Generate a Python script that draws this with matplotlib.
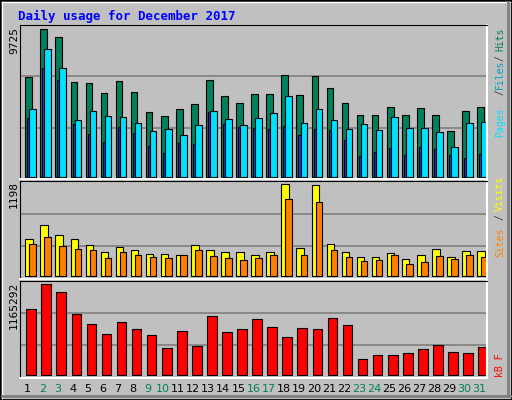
import matplotlib
matplotlib.use("Agg")
import matplotlib.pyplot as plt
import numpy as np

days = list(range(1, 32))
weekend = [2, 3, 9, 10, 16, 17, 23, 24, 30, 31]
hits = [6600, 9725, 9200, 6270, 6200, 5540, 6330, 5610, 4250, 3990, 4440, 4770, 6400, 5350, 4840, 5480, 5480, 6730, 5420, 6670, 5880, 4840, 4050, 4050, 4570, 4050, 4510, 4050, 3000, 4310, 4570]
files = [4440, 8400, 7150, 3720, 4310, 3990, 3920, 3520, 3000, 3120, 2730, 3390, 4310, 3780, 3390, 3850, 4180, 5300, 3560, 4440, 3720, 3120, 3450, 3060, 3920, 3190, 3190, 2930, 1940, 3560, 3630]
pages = [3850, 7150, 6400, 3450, 2790, 2270, 3260, 2860, 2000, 1540, 2200, 2130, 4250, 3450, 3260, 3190, 3120, 3320, 2730, 3120, 3060, 2400, 1340, 1610, 1870, 1410, 1940, 1800, 1410, 1210, 1470]
visits = [482, 664, 534, 482, 404, 312, 377, 338, 286, 286, 273, 404, 338, 312, 312, 273, 312, 1198, 364, 1185, 417, 312, 247, 247, 299, 221, 273, 351, 247, 325, 325]
sites = [417, 508, 391, 351, 338, 234, 312, 273, 247, 234, 273, 338, 260, 234, 208, 234, 273, 1003, 273, 964, 338, 247, 195, 208, 273, 156, 182, 260, 221, 273, 247]
kbytes = [844000, 1165292, 1062000, 781000, 653000, 525000, 679000, 589000, 512000, 346000, 563000, 371000, 755000, 550000, 589000, 717000, 614000, 486000, 602000, 589000, 730000, 640000, 205000, 256000, 256000, 282000, 333000, 384000, 294000, 282000, 358000]

W, H = 512, 400
fig = plt.figure(figsize=(W / 100, H / 100), dpi=100)
fig.patch.set_facecolor("#C0C0C0")
fig.add_artist(plt.Rectangle((0, 0), 1, 1, transform=fig.transFigure, fill=False, ec="black", lw=2))
fig.add_artist(plt.Line2D([2/W, 2/W], [2/H, 1-2/H], transform=fig.transFigure, color="white", lw=1))
fig.add_artist(plt.Line2D([2/W, 1-2/W], [1-2/H, 1-2/H], transform=fig.transFigure, color="white", lw=1))
fig.add_artist(plt.Line2D([1-4/W, 1-4/W], [4/H, 1-2/H], transform=fig.transFigure, color="#808080", lw=2))
fig.add_artist(plt.Line2D([2/W, 1-2/W], [4/H, 4/H], transform=fig.transFigure, color="#808080", lw=2))

x0, x1 = 20, 487

def make_ax(top, bottom, base, maxtop, vmax):
    ax = fig.add_axes([x0 / W, 1 - bottom / H, (x1 - x0) / W, (bottom - top) / H])
    ax.set_facecolor("#C0C0C0")
    ppv = (base - maxtop) / vmax
    ax.set_ylim(-(bottom - base) / ppv, (base - top) / ppv)
    ax.set_xlim(0, 31)
    ax.set_xticks([]); ax.set_yticks([])
    for s in ["top", "left"]:
        ax.spines[s].set_color("black")
    for s in ["bottom", "right"]:
        ax.spines[s].set_color("white")
        ax.spines[s].set_linewidth(1.5)
    lo, hi = ax.get_ylim()
    for f in (1/3, 2/3):
        ax.axhline(lo + f * (hi - lo), color="#808080", lw=1.2, zorder=0)
    return ax

xs = np.arange(31) + 0.5
kw = dict(align="edge", edgecolor="black", linewidth=0.8)

ax1 = make_ax(25, 179, 176.7, 29.3, 9725)
ax1.bar(xs - 0.146, hits, 0.44, color="#00805C", **kw)
ax1.bar(xs - 0.013, pages, 0.16, color="#0040FF", **kw)
ax1.bar(xs + 0.12, files, 0.44, color="#00E0FF", **kw)

ax2 = make_ax(180.7, 279.3, 276.3, 184.3, 1198)
ax2.bar(xs - 0.146, visits, 0.5, color="#FFFF00", **kw)
ax2.bar(xs + 0.12, sites, 0.44, color="#FF8000", **kw)

ax3 = make_ax(280.7, 377.7, 375.3, 284.3, 1165292)
ax3.bar(xs - 0.08, kbytes, 0.64, color="#FF0000", **kw)

mono = "DejaVu Sans Mono"
fig.text(18 / W, 1 - 16 / H, "Daily usage for December 2017", color="#0000FF", fontsize=9,
         fontweight="bold", family=mono, va="center", ha="left")

def vtext(x, y, s, c, fs=8):
    fig.text(x / W, 1 - y / H, s, color=c, rotation=90, fontsize=fs, family=mono,
             ha="center", va="top")

def rtext(y0, y1, s, c):
    fig.text(500 / W, 1 - (y0 + y1) / 2 / H, s, color=c, rotation=90, fontsize=7,
             family=mono, ha="center", va="center")

vtext(14, 27, "9725", "black")
vtext(14, 181, "1198", "black")
vtext(14, 282, "1165292", "black")

rtext(29, 50, "Hits", "#00805C")
rtext(55, 62, "/", "#404040")
rtext(63, 86, "Files", "#00A0C0")
rtext(88, 96, "/", "#404040")
rtext(107, 137, "Pages", "#00E0FF")
rtext(178, 209, "Visits", "#FFFF00")
rtext(212, 222, "/", "#404040")
rtext(227, 257, "Sites", "#FF8000")
rtext(353, 377, "kB F", "#FF0000")

for d in days:
    fig.text((x0 + (d - 0.5) * (x1 - x0) / 31) / W, 1 - 389 / H, str(d),
             color="#00805C" if d in weekend else "black", fontsize=8,
             ha="center", va="center", family="DejaVu Sans")

fig.savefig("out.png", dpi=100, facecolor=fig.get_facecolor())
